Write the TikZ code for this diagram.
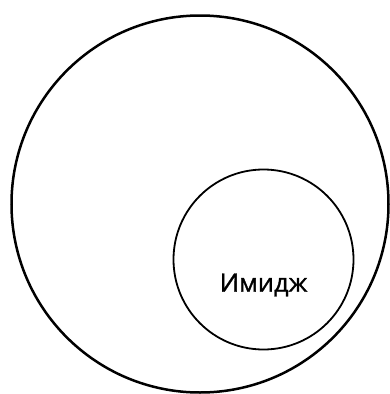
\documentclass[tikz,border=0pt]{standalone}
\usepackage{fontspec}
\setmainfont{Open Sans}[FakeBold=1.2]
\usepackage{tikz}
\usetikzlibrary{positioning}

\begin{document}
\begin{tikzpicture}[x=1pt, y=-1pt]
\useasboundingbox (0,0) rectangle (389,394);
\node[draw, circle, line width=2.5pt, inner sep=0pt, minimum size=377pt] (world) at (200,204) {};
\node[draw, circle, line width=1.8pt, inner sep=0pt, minimum size=180pt] (image) at (263.5,259.5) {};
\node[font=\fontsize{25.5}{28}\selectfont] (label) at (263.5,285) {Имидж};
\end{tikzpicture}
\end{document}
